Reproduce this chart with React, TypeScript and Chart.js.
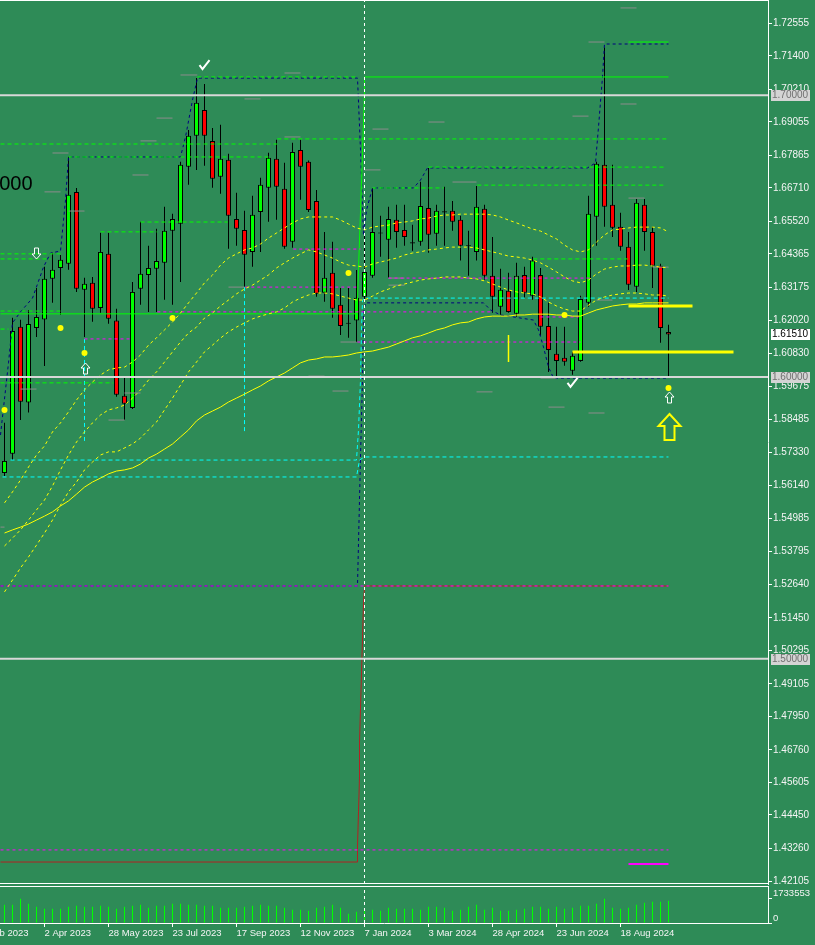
import React, { useEffect, useRef } from 'react';
import { Chart, registerables } from 'chart.js';

Chart.register(...registerables);

const BG = '#2E8B57';
const LIME = '#00FF00';
const RED = '#FF0000';
const YELLOW = '#FFFF00';
const NAVY = '#000080';
const CYAN = '#00FFFF';
const MAGENTA = '#FF00FF';
const AXIS_TEXT = '#F4F4F4';
const FONT = 'Liberation Sans';

const X_MIN = -0.5625;
const X_MAX = 95.4375;
const P_MIN = 1.42;
const P_MAX = 1.73382;

// ---------- weekly candles ----------
const opens = [1.5659,1.5727,1.6178,1.5909,1.6174,1.6204,1.6349,1.6387,1.6402,1.6657,
1.6310,1.6334,1.6245,1.6437,1.6200,1.5933,1.5890,1.6313,1.6362,1.6384,
1.6405,1.6519,1.6544,1.6746,1.6856,1.6948,1.6838,1.6711,1.6771,1.6561,
1.6522,1.6444,1.6586,1.6672,1.6775,1.6668,1.6480,1.6806,1.6764,1.6625,
1.6299,1.6370,1.6256,1.6192,1.6200,1.6285,1.6359,1.6513,1.6487,1.6558,
1.6522,1.6478,1.6480,1.6600,1.6508,1.6588,1.6590,1.6558,1.6468,1.6444,
1.6597,1.6359,1.6249,1.6306,1.6224,1.6362,1.6288,1.6362,1.6181,1.6082,
1.6068,1.6022,1.6057,1.6263,1.6569,1.6753,1.6611,1.6533,1.6462,1.6320,
1.6611,1.6515,1.6395,1.6160];
const highs = [1.5837,1.6210,1.6203,1.6238,1.6316,1.6391,1.6441,1.6433,1.6782,1.6671,
1.6352,1.6355,1.6512,1.6512,1.6242,1.5997,1.6337,1.6551,1.6466,1.6526,
1.6604,1.6579,1.6764,1.6877,1.7061,1.7040,1.6884,1.6895,1.6792,1.6654,
1.6590,1.6643,1.6707,1.6796,1.6842,1.6760,1.6831,1.6842,1.6768,1.6664,
1.6515,1.6480,1.6316,1.6316,1.6380,1.6512,1.6671,1.6572,1.6604,1.6611,
1.6611,1.6540,1.6693,1.6742,1.6611,1.6675,1.6625,1.6572,1.6519,1.6678,
1.6611,1.6497,1.6384,1.6370,1.6405,1.6391,1.6427,1.6387,1.6263,1.6178,
1.6178,1.6089,1.6288,1.6643,1.6764,1.7170,1.6753,1.6583,1.6515,1.6632,
1.6632,1.6533,1.6402,1.6185];
const lows = [1.5648,1.5705,1.5847,1.5874,1.6142,1.6039,1.6263,1.6221,1.6381,1.6302,
1.6142,1.6196,1.6228,1.6189,1.5930,1.5848,1.5886,1.6256,1.6231,1.6231,
1.6274,1.6256,1.6337,1.6682,1.6735,1.6750,1.6672,1.6650,1.6455,1.6466,
1.6320,1.6391,1.6444,1.6551,1.6558,1.6455,1.6459,1.6629,1.6586,1.6285,
1.6267,1.6210,1.6149,1.6139,1.6124,1.6274,1.6352,1.6427,1.6352,1.6459,
1.6466,1.6448,1.6466,1.6441,1.6466,1.6466,1.6519,1.6413,1.6359,1.6413,
1.6345,1.6228,1.6221,1.6228,1.6214,1.6281,1.6274,1.6146,1.6018,1.6000,
1.6040,1.6008,1.6054,1.6249,1.6466,1.6533,1.6497,1.6448,1.6309,1.6302,
1.6448,1.6316,1.6121,1.6000];
const closes = [1.5702,1.6163,1.5912,1.6188,1.6213,1.6349,1.6381,1.6416,1.6647,1.6313,
1.6331,1.6242,1.6444,1.6207,1.5937,1.5905,1.6302,1.6366,1.6387,1.6412,
1.6519,1.6561,1.6753,1.6856,1.6973,1.6856,1.6704,1.6775,1.6572,1.6526,
1.6434,1.6576,1.6682,1.6778,1.6675,1.6462,1.6799,1.6746,1.6593,1.6295,
1.6352,1.6242,1.6181,1.6189,1.6281,1.6373,1.6515,1.6509,1.6561,1.6515,
1.6497,1.6474,1.6607,1.6505,1.6590,1.6584,1.6551,1.6466,1.6464,1.6604,
1.6359,1.6285,1.6310,1.6231,1.6359,1.6299,1.6413,1.6178,1.6096,1.6057,
1.6054,1.6075,1.6277,1.6579,1.6757,1.6604,1.6530,1.6462,1.6327,1.6618,
1.6515,1.6395,1.6174,1.6151];
const volumes = [1305500,1305500,1733553,1376900,1162800,1020200,1020200,1020200,1162800,1234200,
1162800,1162800,1234200,1162800,1020200,1162800,1234200,1305500,1091500,1234200,
1234200,1376900,1376900,1305500,1305500,1234200,1234200,1091500,1091500,1091500,
1162800,1234200,1305500,1234200,1234200,1091500,948800,948800,877500,1091500,
1162800,1305500,1091500,663500,806100,948800,948800,877500,1091500,1020200,
1020200,1020200,948800,1162800,1162800,1091500,877500,948800,1162800,1305500,
948800,1091500,877500,877500,948800,1020200,1162800,1162800,1020200,1162800,
1020200,1091500,1234200,1234200,1376900,1733400,1091500,1020200,1091500,1305500,
1448200,1519500,1519500,1590900];

// ---------- moving averages ----------
const maSolid = [1.5446,1.5457,1.5467,1.5478,1.5492,1.5506,1.5521,1.5542,1.5560,1.5584,
1.5609,1.5627,1.5641,1.5656,1.5666,1.5670,1.5677,1.5691,1.5712,1.5726,
1.5744,1.5762,1.5787,1.5812,1.5844,1.5865,1.5879,1.5893,1.5911,1.5925,
1.5939,1.5954,1.5968,1.5986,1.6000,1.6014,1.6032,1.6050,1.6060,1.6064,
1.6071,1.6071,1.6074,1.6078,1.6085,1.6089,1.6092,1.6099,1.6106,1.6117,
1.6128,1.6139,1.6146,1.6156,1.6167,1.6174,1.6185,1.6192,1.6195,1.6206,
1.6213,1.6216,1.6216,1.6216,1.6220,1.6220,1.6223,1.6223,1.6223,1.6220,
1.6220,1.6216,1.6216,1.6227,1.6238,1.6245,1.6252,1.6256,1.6259,1.6259,
1.6263,1.6263,1.6263,1.6263];
const maUpper = [1.5553,1.5592,1.5634,1.5680,1.5723,1.5755,1.5805,1.5837,1.5876,1.5918,
1.5954,1.5982,1.6007,1.6025,1.6032,1.6035,1.6053,1.6078,1.6113,1.6139,
1.6167,1.6195,1.6227,1.6263,1.6298,1.6334,1.6362,1.6397,1.6422,1.6437,
1.6451,1.6458,1.6472,1.6493,1.6511,1.6529,1.6547,1.6561,1.6568,1.6568,
1.6568,1.6568,1.6557,1.6543,1.6529,1.6522,1.6532,1.6536,1.6539,1.6547,
1.6550,1.6554,1.6561,1.6564,1.6571,1.6575,1.6575,1.6578,1.6578,1.6578,
1.6578,1.6575,1.6568,1.6557,1.6547,1.6536,1.6525,1.6518,1.6504,1.6490,
1.6468,1.6451,1.6444,1.6451,1.6479,1.6504,1.6522,1.6525,1.6529,1.6532,
1.6532,1.6532,1.6529,1.6515];
const maMiddle = [1.5400,1.5428,1.5457,1.5492,1.5528,1.5563,1.5613,1.5670,1.5723,1.5769,
1.5805,1.5837,1.5865,1.5883,1.5890,1.5900,1.5925,1.5954,1.5989,1.6018,
1.6053,1.6089,1.6124,1.6156,1.6177,1.6209,1.6227,1.6252,1.6273,1.6295,
1.6312,1.6326,1.6344,1.6362,1.6387,1.6405,1.6422,1.6437,1.6451,1.6444,
1.6433,1.6422,1.6408,1.6397,1.6394,1.6390,1.6401,1.6408,1.6415,1.6422,
1.6433,1.6440,1.6444,1.6451,1.6454,1.6458,1.6461,1.6461,1.6461,1.6458,
1.6451,1.6444,1.6437,1.6429,1.6426,1.6422,1.6415,1.6405,1.6390,1.6373,
1.6355,1.6341,1.6334,1.6344,1.6366,1.6383,1.6390,1.6394,1.6394,1.6397,
1.6397,1.6394,1.6390,1.6387];
const maLower = [1.5237,1.5279,1.5322,1.5361,1.5403,1.5446,1.5492,1.5545,1.5592,1.5627,
1.5670,1.5698,1.5723,1.5734,1.5734,1.5748,1.5762,1.5783,1.5812,1.5840,
1.5883,1.5925,1.5971,1.6018,1.6053,1.6089,1.6113,1.6138,1.6160,1.6177,
1.6192,1.6206,1.6216,1.6224,1.6231,1.6245,1.6266,1.6280,1.6291,1.6298,
1.6298,1.6295,1.6287,1.6280,1.6273,1.6273,1.6287,1.6302,1.6312,1.6323,
1.6330,1.6337,1.6344,1.6348,1.6351,1.6355,1.6355,1.6355,1.6351,1.6348,
1.6341,1.6330,1.6319,1.6309,1.6302,1.6298,1.6295,1.6284,1.6266,1.6252,
1.6241,1.6234,1.6234,1.6255,1.6273,1.6284,1.6291,1.6295,1.6298,1.6298,
1.6295,1.6291,1.6291,1.6287];

// ---------- axes ----------
const priceTicks = [1.72555,1.71400,1.70210,1.69055,1.67865,1.66710,1.65520,1.64365,1.63175,
1.62020,1.60830,1.59675,1.58485,1.57330,1.56140,1.54985,1.53795,1.52640,1.51450,1.50295,
1.49105,1.47950,1.46760,1.45605,1.44450,1.43260,1.42105];
const dateTickIndex = [-3,5,13,21,29,37,45,53,61,69,77];
const dateTickLabels = ['5 Feb 2023','2 Apr 2023','28 May 2023','23 Jul 2023','17 Sep 2023',
'12 Nov 2023','7 Jan 2024','3 Mar 2024','28 Apr 2024','23 Jun 2024','18 Aug 2024'];
const volumeTicks = [0, 1733553];
const VOL_MAX = 2639500;

// ---------- levels & objects (x = week index, price) ----------
const roundLevels = [1.70, 1.60, 1.50];
const lastPrice = 1.6151;
const separatorIndex = 45;

type Seg = [number, number, number];
const greenDashed: Seg[] = [[-0.5,34.1,1.6827],[34.1,83,1.6845],[8,33.25,1.6781],[24.1,44.1,1.7065],
[-0.5,7,1.6437],[-0.5,5.75,1.6419],[12,19.1,1.6515],[17,27.9,1.6550],[-0.5,7,1.6234],
[-0.5,0.5,1.6170],[-0.5,13.6,1.5979],[46,54.9,1.6671],[59.1,82.6,1.6681],[53,82.6,1.6745],
[66.1,77.9,1.6419]];
const greenSolidX = [-0.5,43.875,44.125,44.25,44.375,44.5,44.625,44.75,44.875,45,45,83];
const greenSolidP = [1.6224,1.6224,1.6273,1.6380,1.6486,1.6586,1.6692,1.6799,1.6905,1.7012,1.7065,1.7065];
const greenTop: Seg[] = [[78,83,1.7189]];

const navyUpperX = [-0.5,0.5,1,2,3.5,4.875,5.75,7,7.625,8,22,22.625,23.5,24.125,44.125,44.5,44.875,
45.25,46,51.125,52,52.875,72.875,73.875,74.25,74.75,75,83];
const navyUpperP = [1.5794,1.6050,1.6192,1.6231,1.6280,1.6390,1.6440,1.6447,1.6628,1.6781,1.6781,
1.6852,1.6983,1.7061,1.7061,1.6806,1.6504,1.6593,1.6671,1.6671,1.6699,1.6742,1.6742,1.6760,
1.6887,1.7065,1.7182,1.7182];
const navyLowerX = [-0.5,44.125,44.5,44.75,44.875,45.125,59.875,60.75,62,63.625,66.125,66.75,
67.375,68,68.625,83];
const navyLowerP = [1.5258,1.5258,1.5716,1.5989,1.6227,1.6263,1.6263,1.6238,1.6220,1.6213,1.6202,
1.6167,1.6106,1.6035,1.5996,1.5996];

const cyanAX = [0.75,44,44.25,44.5,44.625,44.75,45.125,83];
const cyanAP = [1.5705,1.5705,1.5812,1.5989,1.6167,1.6273,1.6280,1.6280];
const cyanBX = [-0.25,44,44.375,45,83];
const cyanBP = [1.5645,1.5645,1.5705,1.5716,1.5716];
const cyanVertical: Seg[] = [[10,1.6135,1.5766],[30,1.6319,1.5801]];

const magentaDashed: Seg[] = [[36.1,44.5,1.6454],[30.1,44.1,1.6319],[19.1,60.75,1.6231],
[48,73.25,1.6351],[44.1,72,1.6124],[67,71.75,1.6213],[10,15.75,1.6135],[-0.5,83,1.5258],
[-0.5,83,1.4321]];
const magentaSolid: Seg[] = [[78,83,1.4271]];

const redStepX = [-0.5,44.125,44.125,44.25,44.375,44.375,44.5,44.625,44.75,44.875,45,45,83];
const redStepP = [1.4278,1.4278,1.4335,1.4456,1.4580,1.4704,1.4824,1.4949,1.5073,1.5198,1.5254,1.5258,1.5258];

const grayMarks: Seg[] = [[22,24.1,1.7072],[30,32,1.6987],[19,21,1.6919],[17,19,1.6838],[6,8,1.6795],
[16,18,1.6717],[5,7,1.6657],[8,10,1.6589],[28,30,1.6319],[2,4,1.5957],[15,17,1.5943],
[13,15,1.5847],[35,37,1.7079],[35,37,1.6852],[46,48,1.6880],[53,55,1.6905],[45,47,1.6735],
[56,59,1.6692],[48,50,1.6351],[48,50,1.6326],[42,44,1.6124],[38,40,1.6003],[41,43,1.5950],
[59,61,1.5947],[67,69,1.5996],[68,70,1.5893],[74,76,1.6273],[73,75,1.5872],[77,79,1.7310],
[73,75,1.7189],[71,73,1.6926],[77,79,1.6969],[78,80,1.6635],[81,83,1.6390],[-0.5,0,1.5467]];

const yellowThick: Seg[] = [[78,86,1.6252],[71,91.125,1.6089]];
const yellowVertical: Seg[] = [[63,1.6149,1.6053]];
const dotX = [0,7,10,21,43,70,83];
const dotP = [1.5883,1.6174,1.6085,1.6209,1.6369,1.6220,1.5961];

const upArrowX = [10,83];
const upArrowP = [1.6032,1.5929];
const downArrowX = [3.875];
const downArrowP = [1.6440];
const checkX = [25,71];
const checkP = [1.7107,1.5979];
const bigArrowX = [83];
const bigArrowP = [1.5822];
const noteText = '000';
const noteX = 3.5;
const noteP = 1.6685;

// ---------- helpers ----------
const segPoints = (segs: Seg[]) =>
  segs.flatMap(([a, b, p]) => [{ x: a, y: p }, { x: b, y: p }, { x: b, y: null as any }]);
const vertPoints = (segs: Seg[]) =>
  segs.flatMap(([x, p1, p2]) => [{ x, y: p1 }, { x, y: p2 }, { x, y: null as any }]);
const pathPoints = (xs: number[], ps: number[]) => xs.map((x, i) => ({ x, y: ps[i] }));

const lineDs = (data: any[], color: string, width: number, dash: number[] = [], order = 1) => ({
  type: 'line' as const,
  data,
  borderColor: color,
  borderWidth: width,
  borderDash: dash,
  pointRadius: 0,
  pointHoverRadius: 0,
  tension: 0,
  spanGaps: false,
  fill: false,
  order,
});

const framePlugin = {
  id: 'frame',
  beforeDatasetsDraw(chart: any) {
    const { ctx, chartArea } = chart;
    ctx.save();
    ctx.strokeStyle = '#FFFFFF';
    ctx.lineWidth = 1;
    ctx.beginPath();
    ctx.moveTo(0, chartArea.top + 0.5);
    ctx.lineTo(chartArea.right, chartArea.top + 0.5);
    if (chart.canvas.dataset.panel === 'main') {
      ctx.moveTo(0, chartArea.bottom - 0.5);
      ctx.lineTo(chartArea.right, chartArea.bottom - 0.5);
    }
    ctx.stroke();
    ctx.restore();
  },
};

function arrowPath(ctx: CanvasRenderingContext2D, cx: number, cy: number, w: number, h: number,
  headH: number, shaft: number, dir: number) {
  const hw = w / 2, hh = h / 2, s = shaft / 2;
  const tip = cy - dir * hh;
  const neck = tip + dir * headH;
  const base = cy + dir * hh;
  ctx.beginPath();
  ctx.moveTo(cx, tip);
  ctx.lineTo(cx + hw, neck);
  ctx.lineTo(cx + s, neck);
  ctx.lineTo(cx + s, base);
  ctx.lineTo(cx - s, base);
  ctx.lineTo(cx - s, neck);
  ctx.lineTo(cx - hw, neck);
  ctx.closePath();
}

const markPlugin = {
  id: 'marks',
  afterDatasetsDraw(chart: any) {
    const { ctx, scales } = chart;
    const px = (v: number) => scales.x.getPixelForValue(v);
    const py = (v: number) => scales.y.getPixelForValue(v);
    ctx.save();
    ctx.lineJoin = 'miter';
    ctx.strokeStyle = '#FFFFFF';
    ctx.lineWidth = 1;
    upArrowX.forEach((x, i) => {
      arrowPath(ctx, Math.round(px(x)) + 0.5, Math.round(py(upArrowP[i])) + 0.5, 9, 11, 5, 4, 1);
      ctx.stroke();
    });
    downArrowX.forEach((x, i) => {
      arrowPath(ctx, Math.round(px(x)) + 0.5, Math.round(py(downArrowP[i])) + 0.5, 9, 11, 5, 4, -1);
      ctx.stroke();
    });
    ctx.lineWidth = 2;
    checkX.forEach((x, i) => {
      const cx = px(x), cy = py(checkP[i]);
      ctx.beginPath();
      ctx.moveTo(cx - 5, cy);
      ctx.lineTo(cx - 2, cy + 4);
      ctx.lineTo(cx + 5, cy - 5);
      ctx.stroke();
    });
    ctx.strokeStyle = YELLOW;
    ctx.lineWidth = 2;
    bigArrowX.forEach((x, i) => {
      arrowPath(ctx, Math.round(px(x)) + 0.5, Math.round(py(bigArrowP[i])), 22, 26, 12, 10, 1);
      ctx.stroke();
    });
    ctx.fillStyle = '#000000';
    ctx.font = `20px ${FONT}`;
    ctx.textAlign = 'right';
    ctx.textBaseline = 'middle';
    ctx.fillText(noteText, px(noteX), py(noteP));
    ctx.restore();
  },
  afterDraw(chart: any) {
    const { ctx, scales, chartArea } = chart;
    const py = (v: number) => Math.round(scales.y.getPixelForValue(v));
    ctx.save();
    ctx.font = `10px ${FONT}`;
    ctx.textAlign = 'left';
    ctx.textBaseline = 'middle';
    const box = (v: number, bg: string, fg: string) => {
      const y = py(v);
      ctx.fillStyle = bg;
      ctx.fillRect(chartArea.right + 3, y - 5, 39, 11);
      ctx.fillStyle = fg;
      ctx.fillText(v.toFixed(5), chartArea.right + 4, y + 0.5);
    };
    roundLevels.forEach((v) => box(v, '#D4D4D4', '#707070'));
    box(lastPrice, '#FFFFFF', '#000000');
    ctx.restore();
  },
};

function buildMain(canvas: HTMLCanvasElement) {
  const idx = opens.map((_, i) => i);
  const bodyColors = idx.map((i) =>
    closes[i] > opens[i] + 0.0005 ? LIME : closes[i] < opens[i] - 0.0005 ? RED : '#000000');
  const datasets: any[] = [
    {
      type: 'bar', data: idx.map((i) => ({ x: i, y: [lows[i], highs[i]] })),
      backgroundColor: '#000000', barThickness: 1, grouped: false, inflateAmount: 0, order: 20,
    },
    {
      type: 'bar', data: idx.map((i) => ({ x: i, y: [opens[i], closes[i]] })),
      backgroundColor: bodyColors, borderColor: '#000000', borderWidth: 1, borderSkipped: false,
      barThickness: 5, grouped: false, inflateAmount: 0, order: 19,
    },
    lineDs(vertPoints(cyanVertical), CYAN, 1, [4, 3], 8),
    lineDs(pathPoints(cyanAX, cyanAP), CYAN, 1, [4, 3], 8),
    lineDs(pathPoints(cyanBX, cyanBP), CYAN, 1, [4, 3], 8),
    lineDs(pathPoints(redStepX, redStepP), '#B22222', 1, [], 10),
    lineDs(pathPoints(navyLowerX, navyLowerP), NAVY, 1, [3, 3], 9),
    lineDs(pathPoints(navyUpperX, navyUpperP), NAVY, 1, [3, 3], 9),
    lineDs(segPoints(magentaDashed), MAGENTA, 1, [3, 3], 6),
    lineDs(segPoints(magentaSolid), MAGENTA, 2, [], 6),
    lineDs(segPoints(greenDashed), LIME, 1, [4, 3], 7),
    lineDs(pathPoints(greenSolidX, greenSolidP), LIME, 1, [], 7),
    lineDs(segPoints(greenTop), LIME, 1, [], 7),
    lineDs(segPoints(grayMarks), '#8C8C8C', 1, [], 6),
    lineDs(idx.map((i) => ({ x: i, y: maSolid[i] })), YELLOW, 1, [], 5),
    lineDs(idx.map((i) => ({ x: i, y: maUpper[i] })), YELLOW, 1, [3, 3], 5),
    lineDs(idx.map((i) => ({ x: i, y: maMiddle[i] })), YELLOW, 1, [3, 3], 5),
    lineDs(idx.map((i) => ({ x: i, y: maLower[i] })), YELLOW, 1, [3, 3], 5),
    lineDs(segPoints(roundLevels.map((p) => [X_MIN, X_MAX, p] as Seg)), '#D8D8D8', 2, [], 4),
    lineDs(segPoints(yellowThick), YELLOW, 3, [], 3),
    lineDs(vertPoints(yellowVertical), YELLOW, 1.5, [], 3),
    {
      type: 'line', data: dotX.map((x, i) => ({ x, y: dotP[i] })), showLine: false,
      pointRadius: 3, pointBackgroundColor: YELLOW, pointBorderWidth: 0, order: 2,
    },
    lineDs([{ x: separatorIndex, y: P_MIN }, { x: separatorIndex, y: P_MAX }], '#FFFFFF', 1, [3, 3], 1),
  ];
  return new Chart(canvas, {
    type: 'bar',
    data: { datasets },
    plugins: [framePlugin, markPlugin],
    options: {
      animation: false,
      responsive: false,
      events: [],
      layout: { autoPadding: false, padding: { top: 0, bottom: 2, left: 0, right: 0 } },
      plugins: { legend: { display: false }, tooltip: { enabled: false } },
      scales: {
        x: { type: 'linear', min: X_MIN, max: X_MAX, offset: false, display: false },
        y: {
          type: 'linear', position: 'right', min: P_MIN, max: P_MAX,
          afterBuildTicks: (s: any) => { s.ticks = priceTicks.map((v) => ({ value: v })); },
          afterFit: (s: any) => { s.width = 47; s.paddingTop = 0; s.paddingBottom = 0; },
          ticks: {
            autoSkip: false, padding: 1, color: AXIS_TEXT,
            font: { family: FONT, size: 10 },
            callback: (v: any) => Number(v).toFixed(5),
          },
          grid: { drawOnChartArea: false, drawTicks: true, tickLength: 4, color: '#FFFFFF' },
          border: { display: true, color: '#FFFFFF', width: 1 },
        },
      },
    } as any,
  });
}

function buildVolume(canvas: HTMLCanvasElement) {
  const idx = volumes.map((_, i) => i);
  return new Chart(canvas, {
    type: 'bar',
    data: {
      datasets: [
        {
          type: 'bar', data: idx.map((i) => ({ x: i, y: volumes[i] })), backgroundColor: LIME,
          barThickness: 1, grouped: false, inflateAmount: 0, order: 2,
        } as any,
        lineDs([{ x: separatorIndex, y: 0 }, { x: separatorIndex, y: VOL_MAX }], '#FFFFFF', 1, [3, 3], 1),
      ],
    },
    plugins: [framePlugin],
    options: {
      animation: false,
      responsive: false,
      events: [],
      layout: { autoPadding: false, padding: { top: 0, bottom: 0, left: 0, right: 0 } },
      plugins: { legend: { display: false }, tooltip: { enabled: false } },
      scales: {
        x: {
          type: 'linear', min: X_MIN, max: X_MAX, offset: false, position: 'bottom',
          afterBuildTicks: (s: any) => { s.ticks = dateTickIndex.map((v) => ({ value: v })); },
          afterFit: (s: any) => { s.height = 22; s.paddingLeft = 0; s.paddingRight = 0; },
          ticks: {
            autoSkip: false, align: 'start', maxRotation: 0, minRotation: 0, padding: 1,
            color: AXIS_TEXT, font: { family: FONT, size: 9.5 },
            callback: (_v: any, i: number) => dateTickLabels[i],
          },
          grid: { drawOnChartArea: false, drawTicks: true, tickLength: 4, color: '#FFFFFF', offset: false },
          border: { display: true, color: '#FFFFFF', width: 1 },
        },
        y: {
          type: 'linear', position: 'right', min: 0, max: VOL_MAX,
          afterBuildTicks: (s: any) => { s.ticks = volumeTicks.map((v) => ({ value: v })); },
          afterFit: (s: any) => { s.width = 47; s.paddingTop = 0; s.paddingBottom = 0; },
          ticks: {
            autoSkip: false, padding: 1, labelOffset: -5, color: AXIS_TEXT,
            font: { family: FONT, size: 9.5 },
            callback: (v: any) => String(v),
          },
          grid: { drawOnChartArea: false, drawTicks: true, tickLength: 4, color: '#FFFFFF' },
          border: { display: true, color: '#FFFFFF', width: 1 },
        },
      },
    } as any,
  });
}

export default function App() {
  const mainRef = useRef<HTMLCanvasElement>(null);
  const volRef = useRef<HTMLCanvasElement>(null);
  useEffect(() => {
    document.body.style.margin = '0';
    document.body.style.background = BG;
    const a = buildMain(mainRef.current!);
    const b = buildVolume(volRef.current!);
    return () => { a.destroy(); b.destroy(); };
  }, []);
  return (
    <div style={{ position: 'relative', width: 815, height: 945, background: BG, overflow: 'hidden' }}>
      <canvas ref={mainRef} data-panel="main" width={815} height={886}
        style={{ position: 'absolute', left: 0, top: 0, width: 815, height: 886 }} />
      <canvas ref={volRef} data-panel="volume" width={815} height={59}
        style={{ position: 'absolute', left: 0, top: 886, width: 815, height: 59 }} />
    </div>
  );
}
